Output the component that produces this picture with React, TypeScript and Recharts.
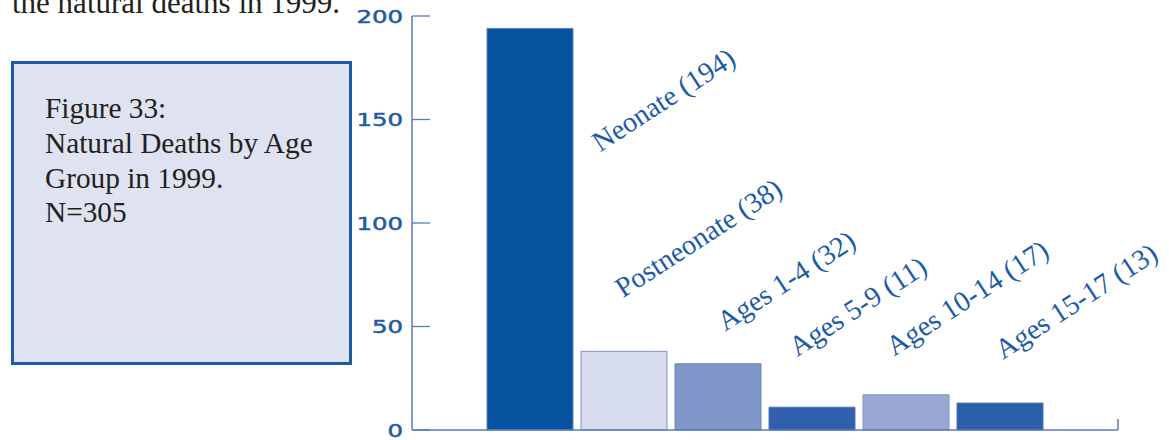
import React from "react";
import { BarChart, Bar, XAxis, YAxis, Cell, LabelList } from "recharts";

const categories = ["Neonate", "Postneonate", "Ages 1-4", "Ages 5-9", "Ages 10-14", "Ages 15-17"];
const deaths = [194, 38, 32, 11, 17, 13];
const yTicks = [0, 50, 100, 150, 200];

const fills = ["#05529f", "#d7dcee", "#7f96c8", "#3060ad", "#9aa9d4", "#2a5fa8"];
const strokes = ["#5f82c0", "#7f93c9", "#6d84bd", "#5274b8", "#8093c8", "#4f73b5"];
// label anchor offsets relative to each bar's top-left corner (layout only)
const labelOffsets: [number, number][] = [
  [113, 124],
  [42, -53],
  [50, -32],
  [28, -50],
  [31, -38],
  [46, -43],
];

const data = categories.map((c, i) => ({ name: c, value: deaths[i] }));

const AXIS = "#5b79c0";
const BLUE_TEXT = "#1c5ba7";

const YTick = (props: any) => {
  const { x, y, payload } = props;
  return (
    <g>
      <line x1={x + 9} x2={x + 27} y1={y} y2={y} stroke={AXIS} strokeWidth={1.3} />
      <g transform={`translate(${x},${y})`}>
        <text
          transform="scale(1.32,1)"
          textAnchor="end"
          dy={6.5}
          fill="#1f5aa6"
          stroke="#1f5aa6"
          strokeWidth={0.5}
          style={{ fontFamily: "DejaVu Sans, sans-serif", fontSize: 18.5 }}
        >
          {payload.value}
        </text>
      </g>
    </g>
  );
};

const BarLabel = (props: any) => {
  const { x, y, index, value } = props;
  const [dx, dy] = labelOffsets[index];
  const px = x + dx;
  const py = y + dy;
  return (
    <text
      x={px}
      y={py}
      transform={`rotate(-33, ${px}, ${py})`}
      fill={BLUE_TEXT}
      style={{ fontFamily: "Liberation Serif, serif", fontSize: 28.5 }}
    >
      {`${categories[index]} (${value})`}
    </text>
  );
};

export default function App() {
  return (
    <div style={{ position: "absolute", left: 0, top: 0, width: 1169, height: 440, overflow: "hidden", background: "#fff" }}>
      <div
        style={{
          position: "absolute",
          left: 12,
          top: -13,
          fontFamily: "Liberation Serif, serif",
          fontSize: 31,
          lineHeight: "31px",
          color: "#231f20",
          whiteSpace: "nowrap",
        }}
      >
        the natural deaths in 1999.
      </div>
      <div
        style={{
          position: "absolute",
          left: 11,
          top: 61,
          width: 335,
          height: 298,
          border: "3px solid #1c5aa6",
          background: "#dfe2f1",
        }}
      >
        <div
          style={{
            position: "absolute",
            left: 31,
            top: 27,
            fontFamily: "Liberation Serif, serif",
            fontSize: 29.3,
            lineHeight: "34.8px",
            color: "#231f20",
            whiteSpace: "nowrap",
          }}
        >
          Figure 33:
          <br />
          Natural Deaths by Age
          <br />
          Group in 1999.
          <br />
          N=305
        </div>
      </div>
      <div style={{ position: "absolute", left: 0, top: 0 }}>
        <BarChart
          width={1169}
          height={440}
          data={data}
          margin={{ top: 16, right: 51, bottom: 9, left: 352 }}
        >
          <XAxis
            dataKey="name"
            height={1}
            tick={false}
            tickLine={false}
            axisLine={{ stroke: AXIS, strokeWidth: 1.5 }}
            padding={{ left: 71, right: 71 }}
          />
          <YAxis
            width={60}
            domain={[0, 200]}
            ticks={yTicks}
            tickSize={0}
            tickMargin={9}
            tickLine={false}
            axisLine={{ stroke: AXIS, strokeWidth: 1.5 }}
            tick={<YTick />}
            interval={0}
          />
          <Bar dataKey="value" barSize={86} isAnimationActive={false}>
            {data.map((d, i) => (
              <Cell key={d.name} fill={fills[i]} stroke={strokes[i]} strokeWidth={1} />
            ))}
            <LabelList dataKey="value" content={<BarLabel />} />
          </Bar>
        </BarChart>
      </div>
      <svg style={{ position: "absolute", left: 0, top: 0, pointerEvents: "none" }} width={1169} height={440}>
        <line x1={1118} x2={1118} y1={419} y2={430} stroke={AXIS} strokeWidth={1.5} />
      </svg>
    </div>
  );
}
